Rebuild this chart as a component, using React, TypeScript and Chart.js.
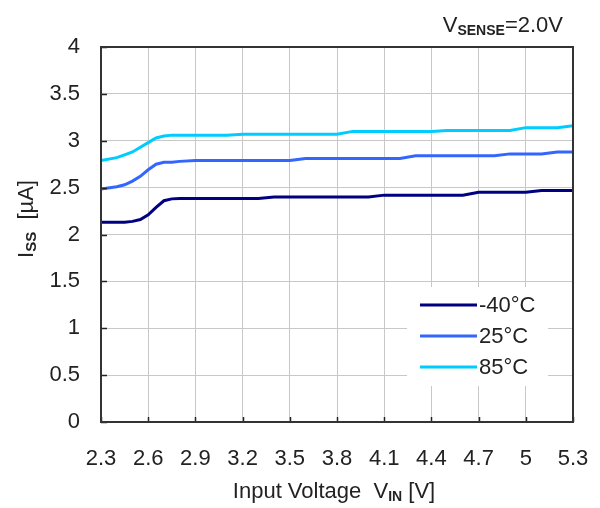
import React, { useEffect, useRef } from "react";
import { Chart, registerables } from "chart.js";

Chart.register(...registerables);

const VIN = [2.3, 2.4, 2.45, 2.5, 2.55, 2.6, 2.65, 2.7, 2.75, 2.8, 2.9, 3.0, 3.1, 3.2, 3.3, 3.4, 3.5, 3.6, 3.7, 3.8, 3.9, 4.0, 4.1, 4.2, 4.3, 4.4, 4.5, 4.6, 4.7, 4.8, 4.9, 5.0, 5.1, 5.2, 5.3];
const ISS_M40 = [2.13, 2.13, 2.13, 2.14, 2.16, 2.21, 2.29, 2.36, 2.38, 2.385, 2.385, 2.385, 2.385, 2.385, 2.385, 2.4, 2.4, 2.4, 2.4, 2.4, 2.4, 2.4, 2.42, 2.42, 2.42, 2.42, 2.42, 2.42, 2.45, 2.45, 2.45, 2.45, 2.47, 2.47, 2.47];
const ISS_25 = [2.485, 2.51, 2.53, 2.57, 2.62, 2.69, 2.75, 2.77, 2.77, 2.78, 2.79, 2.79, 2.79, 2.79, 2.79, 2.79, 2.79, 2.81, 2.81, 2.81, 2.81, 2.81, 2.81, 2.81, 2.84, 2.84, 2.84, 2.84, 2.84, 2.84, 2.86, 2.86, 2.86, 2.88, 2.88];
const ISS_85 = [2.79, 2.82, 2.85, 2.88, 2.93, 2.98, 3.03, 3.05, 3.06, 3.06, 3.06, 3.06, 3.06, 3.07, 3.07, 3.07, 3.07, 3.07, 3.07, 3.07, 3.1, 3.1, 3.1, 3.1, 3.1, 3.1, 3.11, 3.11, 3.11, 3.11, 3.11, 3.14, 3.14, 3.14, 3.16];
const SERIES_LABELS = ["-40°C", "25°C", "85°C"];
const SERIES_COLORS = ["#000080", "#3366FF", "#00CCFF"];
const X_TICKS = [2.3, 2.6, 2.9, 3.2, 3.5, 3.8, 4.1, 4.4, 4.7, 5.0, 5.3];
const Y_TICKS = [0, 0.5, 1, 1.5, 2, 2.5, 3, 3.5, 4];

const FONT = "'Liberation Sans', Arial, sans-serif";

type Seg = { text: string; font: string; dy?: number };

function drawRich(ctx: CanvasRenderingContext2D, segs: Seg[], x: number, y: number, align: "left" | "center" | "right") {
  let total = 0;
  const widths = segs.map((s) => {
    ctx.font = s.font;
    const w = ctx.measureText(s.text).width;
    total += w;
    return w;
  });
  let cx = align === "left" ? x : align === "center" ? x - total / 2 : x - total;
  ctx.textAlign = "left";
  ctx.textBaseline = "alphabetic";
  segs.forEach((s, i) => {
    ctx.font = s.font;
    ctx.fillText(s.text, cx, y + (s.dy || 0));
    cx += widths[i];
  });
}

const decorPlugin = {
  id: "decor",
  afterDatasetsDraw(chart: any) {
    const ctx: CanvasRenderingContext2D = chart.ctx;
    const { left, right, top, bottom } = chart.chartArea;
    const xs = chart.scales.x;
    const ys = chart.scales.y;
    ctx.save();
    // legend
    ctx.fillStyle = "#ffffff";
    ctx.fillRect(407, 287, 141, 99);
    chart.data.datasets.forEach((ds: any, i: number) => {
      const yy = 305 + i * 31;
      ctx.strokeStyle = ds.borderColor;
      ctx.lineWidth = 3;
      ctx.beginPath();
      ctx.moveTo(420, yy);
      ctx.lineTo(477, yy);
      ctx.stroke();
      ctx.fillStyle = "#222";
      ctx.font = `22px ${FONT}`;
      ctx.textAlign = "left";
      ctx.textBaseline = "middle";
      ctx.fillText(ds.label, 479, yy + 1);
    });
    // inward ticks
    ctx.strokeStyle = "#222";
    ctx.lineWidth = 1.5;
    Y_TICKS.forEach((v) => {
      const py = Math.round(ys.getPixelForValue(v)) + 0.5;
      ctx.beginPath();
      ctx.moveTo(left, py);
      ctx.lineTo(left + 6, py);
      ctx.stroke();
    });
    X_TICKS.forEach((v) => {
      const px = Math.round(xs.getPixelForValue(v)) + 0.5;
      ctx.beginPath();
      ctx.moveTo(px, bottom);
      ctx.lineTo(px, bottom - 5);
      ctx.stroke();
    });
    // border
    ctx.strokeStyle = "#333";
    ctx.lineWidth = 2;
    ctx.strokeRect(left, top, right - left, bottom - top);
    // title
    ctx.fillStyle = "#222";
    drawRich(
      ctx,
      [
        { text: "V", font: `22px ${FONT}` },
        { text: "SENSE", font: `bold 14px ${FONT}`, dy: 3 },
        { text: "=2.0V", font: `22px ${FONT}` },
      ],
      563,
      32,
      "right"
    );
    // x title
    drawRich(
      ctx,
      [
        { text: "Input Voltage  V", font: `22px ${FONT}` },
        { text: "IN", font: `bold 14px ${FONT}`, dy: 3 },
        { text: " [V]", font: `22px ${FONT}` },
      ],
      334,
      498,
      "center"
    );
    // y title
    ctx.translate(33, 219);
    ctx.rotate(-Math.PI / 2);
    drawRich(
      ctx,
      [
        { text: "I", font: `22px ${FONT}` },
        { text: "SS", font: `bold 15px ${FONT}`, dy: 3 },
        { text: "  [\u00b5A]", font: `22px ${FONT}` },
      ],
      0,
      0,
      "center"
    );
    ctx.restore();
  },
};

export default function App() {
  const ref = useRef<HTMLCanvasElement>(null);
  useEffect(() => {
    if (!ref.current) return;
    const series = [ISS_M40, ISS_25, ISS_85];
    const chart = new Chart(ref.current, {
      type: "line",
      data: {
        datasets: series.map((arr, i) => ({
          label: SERIES_LABELS[i],
          data: VIN.map((x, j) => ({ x, y: arr[j] })),
          borderColor: SERIES_COLORS[i],
          backgroundColor: SERIES_COLORS[i],
          borderWidth: 3,
          pointRadius: 0,
          tension: 0,
        })),
      },
      options: {
        animation: false,
        responsive: false,
        layout: { padding: { left: 0, top: 47, right: 27, bottom: 0 } },
        plugins: { legend: { display: false }, tooltip: { enabled: false } },
        scales: {
          x: {
            type: "linear",
            min: 2.3,
            max: 5.3,
            afterBuildTicks: (s: any) => {
              s.ticks = X_TICKS.map((v) => ({ value: v }));
            },
            afterFit: (s: any) => {
              s.height = 86;
              s.paddingLeft = 0;
              s.paddingRight = 0;
            },
            ticks: {
              padding: 24,
              color: "#222",
              font: { family: FONT, size: 22 },
              maxRotation: 0,
              autoSkip: false,
              callback: (v: any) => String(Number(Number(v).toFixed(1))),
            },
            grid: { color: "#c8c8c8", lineWidth: 1, drawTicks: false },
            border: { display: false },
          },
          y: {
            min: 0,
            max: 4,
            afterBuildTicks: (s: any) => {
              s.ticks = Y_TICKS.map((v) => ({ value: v }));
            },
            afterFit: (s: any) => {
              s.width = 101;
              s.paddingTop = 0;
              s.paddingBottom = 0;
            },
            ticks: {
              padding: 21,
              color: "#222",
              font: { family: FONT, size: 22 },
              autoSkip: false,
              callback: (v: any) => String(Number(Number(v).toFixed(1))),
            },
            grid: { color: "#c8c8c8", lineWidth: 1, drawTicks: false },
            border: { display: false },
          },
        },
      },
      plugins: [decorPlugin],
    });
    return () => chart.destroy();
  }, []);
  return (
    <div style={{ position: "absolute", left: 0, top: 0, width: 600, height: 508, background: "#fff" }}>
      <canvas ref={ref} width={600} height={508} style={{ display: "block" }} />
    </div>
  );
}
